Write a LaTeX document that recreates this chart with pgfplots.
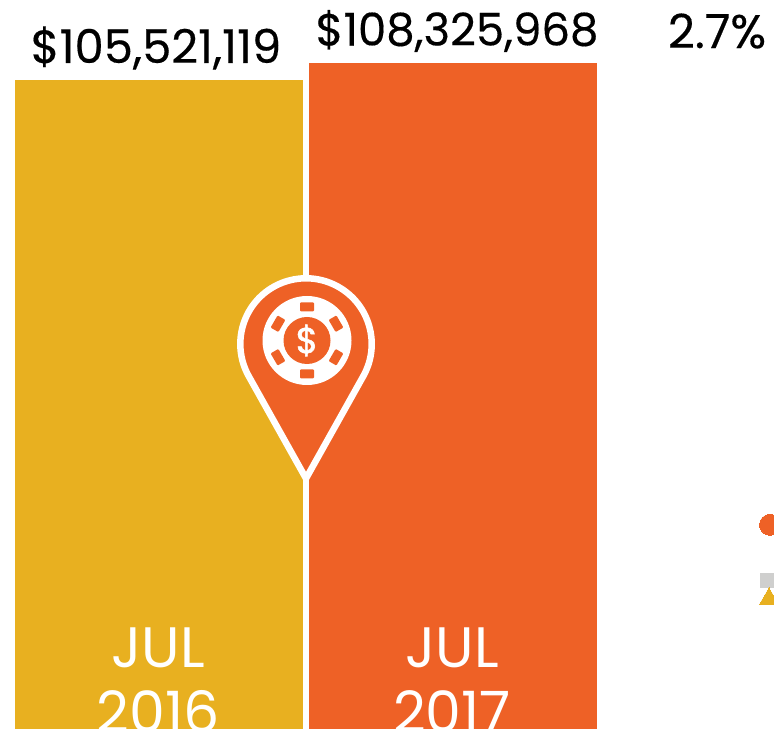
\documentclass[border=0pt]{standalone}
\usepackage{fontspec}
\setmainfont{Poppins}
\newfontfamily\boldish[FakeBold=0.35]{Poppins}
\newfontfamily\heavy[FakeBold=1.5]{Poppins}
\usepackage{xcolor}
\usepackage{pgfplots}
\pgfplotsset{compat=1.18}
\definecolor{amber}{HTML}{E8B020}
\definecolor{flame}{HTML}{EE6126}
\definecolor{softgray}{HTML}{CFCFCE}

\begin{document}
\begin{tikzpicture}
\useasboundingbox (0,0) rectangle (774pt,731pt);
\clip (0,0) rectangle (774pt,731pt);
\begin{axis}[
  at={(0,0)}, anchor=south west,
  scale only axis, width=774pt, height=731pt,
  xmin=0, xmax=774, ymin=-0.325, ymax=118.53,
  axis lines=none, xtick=\empty, ytick=\empty,
  ybar, bar width=288pt, bar shift=0pt,
]
% revenue in millions of dollars
\addplot[ybar, fill=amber, draw=none] coordinates {(159,105.521119)};
\addplot[ybar, fill=flame, draw=none] coordinates {(453,108.325968)};
% legend marks cut off at the right edge
\addplot[only marks, mark=*, mark size=10.5pt, mark options={fill=flame, draw=flame, line width=0pt}] coordinates {(770,33.2)};
\addplot[only marks, mark=square*, mark size=7pt, mark options={fill=softgray, draw=softgray, line width=0pt, xscale=1.5}] coordinates {(771,24.2)};
\addplot[only marks, mark=triangle*, mark size=11.3pt, mark options={fill=amber, draw=amber, line width=0pt}] coordinates {(769,21.1)};
\end{axis}

% everything below in reference pixels, y going down
\begin{scope}[x=1pt, y=-1pt, yshift=731pt]
  \node[font=\boldish\fontsize{46.5}{46.5}\selectfont, text=black] at (156,48) {\$105,521,119};
  \node[font=\boldish\fontsize{45}{45}\selectfont, text=black] at (457,31) {\$108,325,968};
  \node[font=\boldish\fontsize{47}{47}\selectfont, text=black] at (717,31) {2.7\%};
  \node[font=\fontsize{57}{57}\selectfont, text=white] at (158,648) {JUL};
  \node[font=\fontsize{57}{57}\selectfont, text=white] at (158,712) {2016};
  \node[font=\fontsize{57}{57}\selectfont, text=white] at (452,648) {JUL};
  \node[font=\fontsize{57}{57}\selectfont, text=white] at (452,712) {2017};
\end{scope}

% map pin, origin at the centre of its head, y going up
\begin{scope}[shift={(306pt,387pt)}, x=1pt, y=1pt]
  \draw[white, line width=6.5pt, fill=flame, miter limit=10]
    (0,-134.5) -- (-29.3:65.7pt) arc[start angle=-29.3, end angle=209.3, radius=65.7pt] -- cycle;
  % casino chip
  \fill[white] (1,3.5) circle[radius=44.5pt];
  \fill[flame] (1,3.5) circle[radius=23.5pt];
  \foreach \a in {30,90,150,210,270,330} {
    \node[shift={(1,3.5)}, fill=flame, rotate=\a-90, minimum width=14pt, minimum height=9pt,
          inner sep=0pt, rounded corners=1pt] at (\a:33.5pt) {};
  }
  \node[font=\heavy\fontsize{36}{36}\selectfont, text=white] at (1,3.5) {\$};
\end{scope}
\end{tikzpicture}
\end{document}
